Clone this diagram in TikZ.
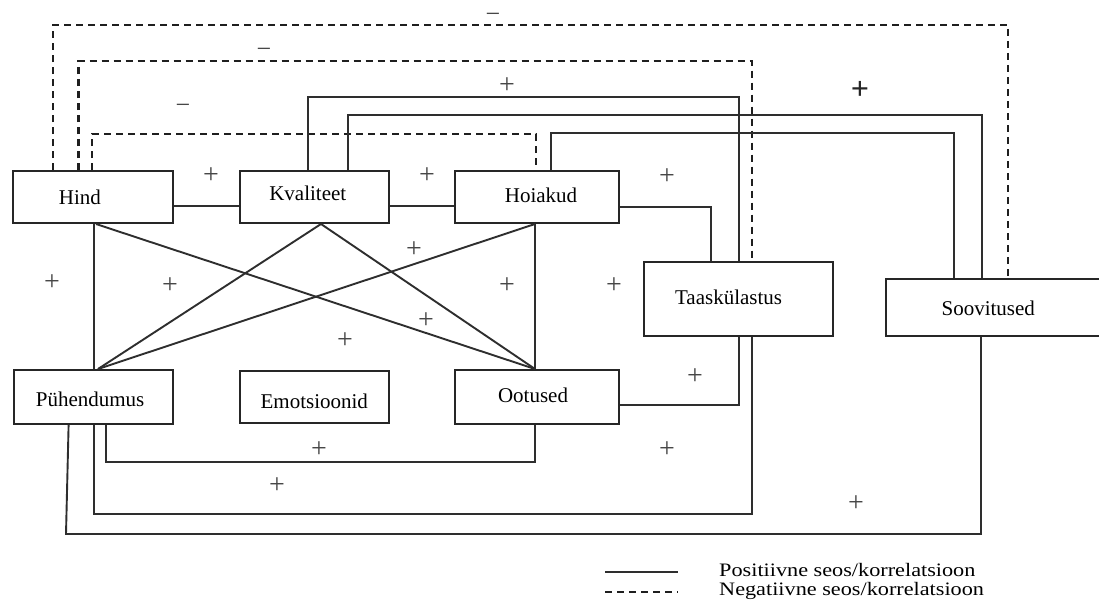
\documentclass[tikz,border=0pt]{standalone}
\usepackage{fontspec}
\usepackage{graphicx}
\setmainfont{Liberation Serif}
\begin{document}
\begin{tikzpicture}[x=1pt,y=-1pt,
  box/.style={draw=black!85, line width=2pt, rectangle, inner sep=0pt},
  posline/.style={draw=black!82, line width=1.9pt},
  negline/.style={draw=black!88, line width=2.3pt, dash pattern=on 7pt off 5pt},
  lbl/.style={font=\fontsize{21}{25}\selectfont, inner sep=0pt},
  sign/.style={font=\fontsize{28}{32}\selectfont, inner sep=0pt, text=black!72},
  minus/.style={font=\fontsize{26}{28}\selectfont, inner sep=0pt, text=black!72},
  bigsign/.style={font=\fontsize{32}{36}\selectfont\bfseries, inner sep=0pt, text=black!85},
  leg/.style={font=\fontsize{19}{22}\selectfont, inner sep=0pt, anchor=west}
]
\useasboundingbox (0,0) rectangle (1099,610);

% boxes
\node[box, minimum width=160, minimum height=52] (hind) at (92.9,197) {};
\node[box, minimum width=148.6, minimum height=52] (kval) at (314.3,197) {};
\node[box, minimum width=163.2, minimum height=52] (hoi) at (537,197) {};
\node[box, minimum width=158.6, minimum height=54] (puh) at (93.6,397) {};
\node[box, minimum width=148.6, minimum height=52] (emo) at (314.3,397) {};
\node[box, minimum width=163.2, minimum height=54] (oot) at (537,397) {};
\node[box, minimum width=188.6, minimum height=74] (taas) at (738.6,298.7) {};
\node[box, minimum width=219.3, minimum height=56.4] (soov) at (995.3,307.5) {};

% box texts
\node[lbl] (hindT) at ([shift={(-13,0)}]hind.center) {Hind};
\node[lbl] (kvalT) at ([shift={(-6.5,-4)}]kval.center) {Kvaliteet};
\node[lbl] (hoiT) at ([shift={(4,-2)}]hoi.center) {Hoiakud};
\node[lbl] (puhT) at ([shift={(-3.5,2)}]puh.center) {Pühendumus};
\node[lbl] (emoT) at ([shift={(0,4.5)}]emo.center) {Emotsioonid};
\node[lbl] (ootT) at ([shift={(-4,-2)}]oot.center) {Ootused};
\node[lbl] (taasT) at ([shift={(-10,-1.5)}]taas.center) {Taaskülastus};
\node[lbl] (soovT) at ([shift={(-7,0.5)}]soov.center) {Soovitused};

% negative (dashed) connectors
\coordinate (n1) at (1008,25);
\coordinate (n2) at (752,61);
\coordinate (n3) at (536,134);
\draw[negline] (hind.north -| 53,0) |- (n1) -- (n1 |- soov.north);
\draw[negline] (hind.north -| 78.6,0) |- (n2) -- (n2 |- taas.north);
\draw[negline] (hind.north -| 92,0) |- (n3) -- (n3 |- hoi.north);

% positive connectors above
\coordinate (c1) at (739,97);
\coordinate (c2) at (982,115);
\coordinate (c3) at (954,133);
\draw[posline] (kval.north -| 308,0) |- (c1) -- (c1 |- taas.north);
\draw[posline] (kval.north -| 348,0) |- (c2) -- (c2 |- soov.north);
\draw[posline] (hoi.north -| 551,0) |- (c3) -- (c3 |- soov.north);

% horizontal neighbours
\draw[posline] (hind.east |- 0,206) -- (kval.west |- 0,206);
\draw[posline] (kval.east |- 0,206) -- (hoi.west |- 0,206);
\draw[posline] (hoi.east |- 0,207) -| (taas.north -| 711,0);

% cross lines
\draw[posline] (hind.south -| 93.6,0) -- (puh.north -| 93.6,0);
\draw[posline] (hind.south -| 96,0) -- (oot.north -| 535,0);
\draw[posline] (kval.south -| 321,0) -- (puh.north -| 98,0);
\draw[posline] (kval.south -| 321,0) -- (oot.north -| 535,0);
\draw[posline] (hoi.south -| 535,0) -- (puh.north -| 98,0);
\draw[posline] (hoi.south -| 535,0) -- (oot.north -| 535,0);

% lower connectors
\coordinate (b1) at (535,462);
\coordinate (b2) at (752,514);
\coordinate (b3) at (981,534);
\coordinate (b4) at (739,405);
\draw[posline] (puh.south -| 106,0) |- (b1) -- (b1 |- oot.south);
\draw[posline] (puh.south -| 93.6,0) |- (b2) -- (b2 |- taas.south);
\draw[posline] (puh.south -| 68.6,0) -- (66,534) -- (b3) -- (b3 |- soov.south);
\draw[posline] (oot.east |- b4) -- (b4) -- (b4 |- taas.south);

% signs
\node[minus] (m1) at (493,18) {−};
\node[minus] (m2) at (264,53) {−};
\node[minus] (m3) at (183,109) {−};
\node[sign] (p1) at (507,86) {+};
\node[bigsign] (p2) at (860,90) {+};
\node[sign] (p3) at (211,176) {+};
\node[sign] (p4) at (427,176) {+};
\node[sign] (p5) at (667,177) {+};
\node[sign] (p6) at (52,283) {+};
\node[sign] (p7) at (170,286) {+};
\node[sign] (p8) at (414,250) {+};
\node[sign] (p9) at (507,286) {+};
\node[sign] (p10) at (426,321) {+};
\node[sign] (p11) at (345,341) {+};
\node[sign] (p12) at (614,286) {+};
\node[sign] (p13) at (695,377) {+};
\node[sign] (p14) at (319,450) {+};
\node[sign] (p15) at (667,450) {+};
\node[sign] (p16) at (277,486) {+};
\node[sign] (p17) at (856,504) {+};

% legend
\coordinate (la1) at (605,572);
\coordinate (la2) at (678,572);
\coordinate (lb1) at (605,592);
\coordinate (lb2) at (678,592);
\draw[posline] (la1) -- (la2);
\draw[negline] (lb1) -- (lb2);
\node[leg] (legP) at (719,570) {\scalebox{1.17}[1]{Positiivne seos/korrelatsioon}};
\node[leg] (legN) at (719,591) {\scalebox{1.17}[1]{Negatiivne seos/korrelatsioon}};
\end{tikzpicture}
\end{document}
